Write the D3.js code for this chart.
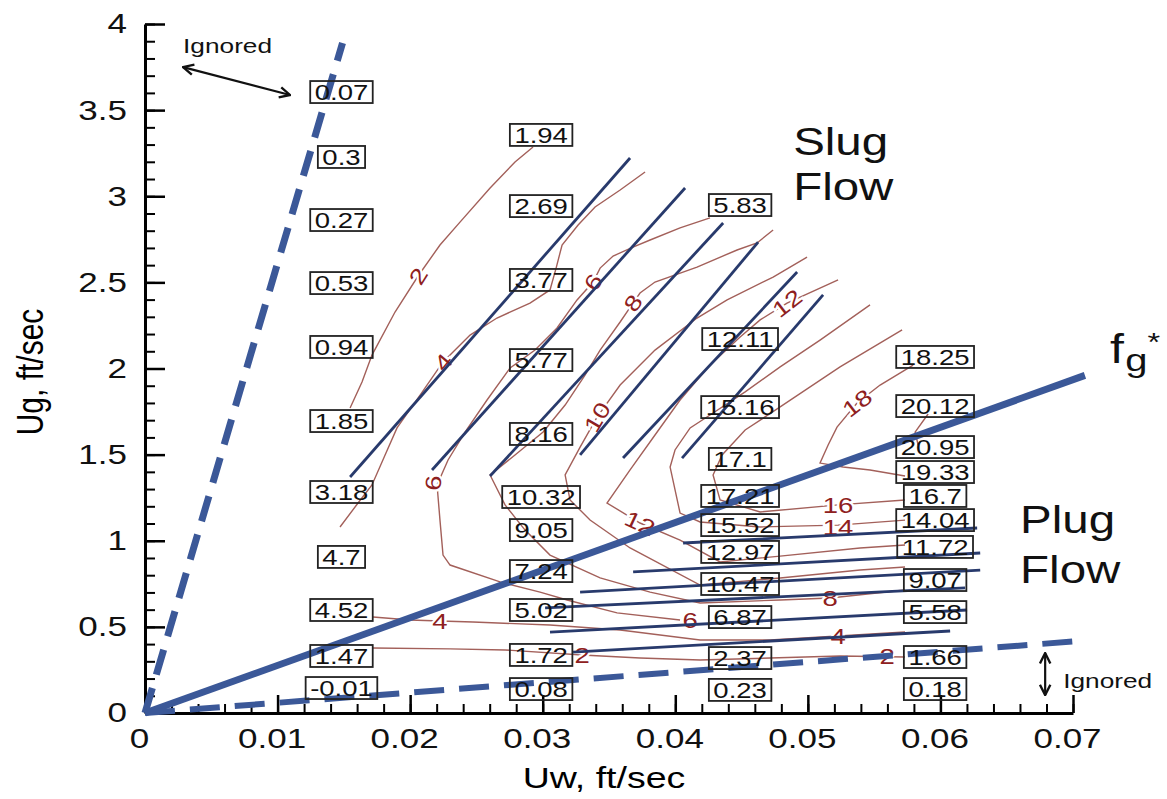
<!DOCTYPE html>
<html>
<head>
<meta charset="utf-8">
<script src="https://cdn.jsdelivr.net/npm/d3@7"></script>
<style>
  body { margin: 0; background: #fff; }
  svg text { font-family: "Liberation Sans", Arial, sans-serif; }
</style>
</head>
<body>
<svg id="chart" width="1167" height="799"></svg>
<script>
// ---- data (Uw ft/sec, Ug ft/sec) ----
var colUw = [0.01482, 0.02988, 0.04489, 0.0596];
var ugCol1 = [3.605, 3.228, 2.862, 2.496, 2.125, 1.695, 1.283, 0.906, 0.598, 0.331, 0.145];
var valCol1 = ["0.07", "0.3", "0.27", "0.53", "0.94", "1.85", "3.18", "4.7", "4.52", "1.47", "-0.01"];
var ugCol2 = [3.356, 2.943, 2.514, 2.049, 1.62, 1.254, 1.062, 0.824, 0.598, 0.337, 0.139];
var valCol2 = ["1.94", "2.69", "3.77", "5.77", "8.16", "10.32", "9.05", "7.24", "5.02", "1.72", "0.08"];
var ugCol3 = [2.949, 2.171, 1.776, 1.475, 1.26, 1.091, 0.935, 0.749, 0.557, 0.319, 0.134];
var valCol3 = ["5.83", "12.11", "15.16", "17.1", "17.21", "15.52", "12.97", "10.47", "6.87", "2.37", "0.23"];
var ugCol4 = [2.067, 1.782, 1.544, 1.399, 1.26, 1.12, 0.964, 0.772, 0.586, 0.325, 0.139];
var valCol4 = ["18.25", "20.12", "20.95", "19.33", "16.7", "14.04", "11.72", "9.07", "5.58", "1.66", "0.18"];

// contour lines [Uw, Ug]
var contour2a = [[0.01547,1.771],[0.01637,1.922],[0.01712,2.078],[0.01886,2.328],[0.0206,2.537],[0.02225,2.717],[0.02376,2.85],[0.02603,3.048],[0.02791,3.199],[0.02927,3.286]];
var contour2b = [[0.0172,0.377],[0.02301,0.372],[0.02716,0.366],[0.03297,0.337],[0.03734,0.319],[0.04187,0.308],[0.04715,0.319],[0.05243,0.331],[0.05733,0.325]];
var contour4a = [[0.01471,1.08],[0.01607,1.219],[0.01712,1.324],[0.01811,1.498],[0.01901,1.655],[0.02075,1.846],[0.02248,2.038],[0.02452,2.194],[0.02655,2.293],[0.02904,2.38],[0.03055,2.456],[0.03101,2.583],[0.03146,2.717],[0.03267,2.833],[0.03395,2.938],[0.03584,3.036],[0.03772,3.141]];
var contour4b = [[0.0172,0.557],[0.01999,0.54],[0.02225,0.534],[0.02474,0.528],[0.03055,0.511],[0.03584,0.482],[0.04187,0.424],[0.04715,0.424],[0.05228,0.447],[0.05733,0.47]];
var contour6 = [[0.04262,2.874],[0.04036,2.816],[0.0381,2.746],[0.03681,2.705],[0.03531,2.653],[0.03433,2.583],[0.0338,2.502],[0.03259,2.398],[0.03108,2.235],[0.02942,2.107],[0.02754,2.003],[0.0258,1.817],[0.02414,1.631],[0.02286,1.469],[0.02203,1.324],[0.02225,1.12],[0.02248,0.917],[0.02301,0.859],[0.02678,0.761],[0.0298,0.702],[0.03184,0.656],[0.03561,0.581],[0.04036,0.54]];
var contour8 = [[0.04738,2.804],[0.04617,2.729],[0.04466,2.688],[0.04164,2.589],[0.03847,2.502],[0.03734,2.438],[0.03681,2.38],[0.03584,2.27],[0.03433,2.107],[0.03319,1.962],[0.03169,1.788],[0.03003,1.631],[0.02791,1.498],[0.02603,1.382],[0.02716,1.208],[0.02867,1.062],[0.03055,0.917],[0.03433,0.784],[0.0381,0.702],[0.04187,0.639],[0.04791,0.656],[0.05168,0.668],[0.05733,0.714]];
var contour10 = [[0.04994,2.647],[0.04738,2.531],[0.04391,2.398],[0.04164,2.293],[0.03847,2.107],[0.03584,1.904],[0.0341,1.718],[0.03282,1.544],[0.03169,1.382],[0.03206,1.237],[0.03357,1.12],[0.03659,0.958],[0.04187,0.743],[0.04791,0.784],[0.05394,0.83],[0.05733,0.848]];
var contour12 = [[0.05228,2.514],[0.04843,2.38],[0.0464,2.282],[0.04489,2.183],[0.04262,2.02],[0.04036,1.817],[0.03847,1.614],[0.03659,1.411],[0.03485,1.219],[0.03734,1.103],[0.04036,1.004],[0.04338,0.877],[0.04791,0.911],[0.05394,0.958],[0.05733,0.975]];
var contour14 = [[0.05469,2.369],[0.05092,2.165],[0.04791,2.009],[0.04527,1.864],[0.04262,1.73],[0.04112,1.655],[0.03998,1.527],[0.03961,1.428],[0.04036,1.161],[0.04187,1.109],[0.0464,1.08],[0.05228,1.091],[0.05733,1.12]];
var contour16 = [[0.05711,2.224],[0.05243,2.009],[0.04791,1.777],[0.04527,1.643],[0.04353,1.498],[0.04285,1.382],[0.04338,1.237],[0.0464,1.167],[0.05228,1.208],[0.05733,1.237]];
var contour18 = [[0.05794,2.02],[0.05545,1.904],[0.05371,1.8],[0.0522,1.66],[0.05153,1.556],[0.05092,1.451],[0.05266,1.428],[0.05469,1.411],[0.05733,1.376]];
var contour20 = [[0.05907,1.736],[0.05809,1.631],[0.05832,1.556]];

var contourText = ["2", "4", "6", "8", "10", "12", "18", "6", "12", "4", "2", "6", "8", "4", "2", "16", "14"];
var contourUw = [0.0206, 0.02248, 0.0338, 0.03681, 0.0341, 0.04843, 0.05371, 0.02173, 0.03734, 0.02225, 0.03297, 0.04112, 0.05168, 0.05228, 0.05598, 0.05228, 0.05228];
var contourUg = [2.537, 2.038, 2.502, 2.38, 1.718, 2.38, 1.8, 1.335, 1.103, 0.534, 0.337, 0.54, 0.668, 0.447, 0.331, 1.208, 1.08];
var contourAngle = [-58, -50, -58, -55, -60, -38, -38, -85, 25, 0, 0, 0, 0, 0, 0, 0, 0];

// straight fit lines [Uw1, Ug1, Uw2, Ug2]
var slugLines = [[0.01547,1.37,0.03659,3.222],[0.02165,1.411,0.04074,3.048],[0.02603,1.376,0.04361,2.845],[0.03282,1.498,0.04625,2.734],[0.03606,1.48,0.04919,2.56],[0.04051,1.48,0.05115,2.427]];
var plugLines = [[0.04059,0.987,0.06277,1.074],[0.03682,0.819,0.063,0.929],[0.03282,0.702,0.063,0.83],[0.03018,0.61,0.06186,0.726],[0.03055,0.47,0.06201,0.598],[0.03229,0.354,0.06073,0.476]];

// regime boundaries
var ignoreUpper = [[0, 0], [0.0149, 3.89]];
var fgStar = [[0, 0], [0.0709, 1.96]];
var ignoreLower = [[0, 0], [0.0705, 0.418]];

// annotations
var regionText = ["Slug", "Flow", "Plug", "Flow"];
var regionUw = [0.04889, 0.04889, 0.06601, 0.06601];
var regionUg = [3.239, 2.978, 1.045, 0.755];
var ignoredUw = [0.00287, 0.06926];
var ignoredUg = [3.832, 0.145];
var arrowTop = [[0.00287, 3.75], [0.01094, 3.588]];
var arrowBottom = [[0.0679, 0.348], [0.0679, 0.104]];
var fgLabel = [0.0728, 2.032];

// ---- chart ----
var sx = 1.25; // the source picture is stretched sideways
var x = d3.scaleLinear().domain([0, 0.07]).range([145, 1073]);
var y = d3.scaleLinear().domain([0, 4]).range([713, 24]);
var svg = d3.select("#chart");

svg.append("defs").append("marker")
  .attr("id", "arr").attr("viewBox", "0 0 10 10").attr("refX", 9).attr("refY", 5)
  .attr("markerWidth", 13).attr("markerHeight", 13).attr("markerUnits", "userSpaceOnUse")
  .attr("orient", "auto-start-reverse")
  .append("path").attr("d", "M1,1L9,5L1,9").attr("fill", "none").attr("stroke", "#111").attr("stroke-width", 1.8);

// axes
svg.append("g").attr("transform", "translate(0,713)")
  .call(d3.axisBottom(x).tickValues(d3.range(0, 0.0701, 0.002)).tickSize(-9).tickFormat(""))
  .call(function (g) { g.select(".domain").remove(); g.selectAll("line").attr("stroke-width", 2); });
svg.append("g").attr("transform", "translate(145,0)")
  .call(d3.axisLeft(y).tickValues(d3.range(0, 4.01, 0.1)).tickSize(-10).tickFormat(""))
  .call(function (g) { g.select(".domain").remove(); g.selectAll("line").attr("stroke-width", 2); });

var xAxis = svg.append("g").attr("transform", "translate(0,713)")
  .call(d3.axisBottom(x).ticks(7).tickSize(-18).tickSizeOuter(0).tickPadding(15).tickFormat(d3.format("~g")));
var yAxis = svg.append("g").attr("transform", "translate(145,0)")
  .call(d3.axisLeft(y).tickValues(d3.range(0, 4.01, 0.5)).tickSize(-20).tickSizeOuter(0).tickPadding(18).tickFormat(d3.format("~g")));
[xAxis, yAxis].forEach(function (a) {
  a.select(".domain").attr("stroke-width", 3);
  a.selectAll(".tick line").attr("stroke-width", 2.5);
  a.selectAll("text").attr("font-size", 28).attr("fill", "#111")
    .attr("font-family", "Liberation Sans, Arial, sans-serif");
});
xAxis.selectAll("text").attr("x", -6 / sx).attr("transform", "scale(" + sx + ",1)");
yAxis.selectAll("text").attr("x", -18 / sx).attr("transform", "scale(" + sx + ",1)");

svg.append("text").text("Uw, ft/sec").attr("font-size", 30).attr("text-anchor", "middle")
  .attr("transform", "translate(604,788) scale(" + sx + ",1)");
svg.append("text").text("Ug, ft/sec").attr("font-size", 30).attr("text-anchor", "middle")
  .attr("transform", "translate(43,372) rotate(-90) scale(1," + sx + ")");

// contours
var line = d3.line().x(function (d) { return x(d[0]); }).y(function (d) { return y(d[1]); });
var contours = [contour2a, contour2b, contour4a, contour4b, contour6, contour8, contour10, contour12, contour14, contour16, contour18, contour20];
svg.append("g").selectAll("path").data(contours).enter().append("path")
  .attr("d", line).attr("fill", "none").attr("stroke", "#a3605a").attr("stroke-width", 1.4);

svg.append("g").selectAll("text").data(contourText).enter().append("text")
  .text(function (d) { return d; })
  .attr("transform", function (d, i) {
    return "translate(" + x(contourUw[i]) + "," + y(contourUg[i]) + ") rotate(" + contourAngle[i] + ") scale(" + sx + ",1)";
  })
  .attr("text-anchor", "middle").attr("dy", "0.36em").attr("font-size", 22).attr("fill", "#8e2020")
  .attr("stroke", "#fff").attr("stroke-width", 4).attr("paint-order", "stroke");

// straight lines
svg.append("g").selectAll("line").data(slugLines.concat(plugLines)).enter().append("line")
  .attr("x1", function (d) { return x(d[0]); }).attr("y1", function (d) { return y(d[1]); })
  .attr("x2", function (d) { return x(d[2]); }).attr("y2", function (d) { return y(d[3]); })
  .attr("stroke", "#283a6c").attr("stroke-width", 2.8);

svg.append("path").datum(fgStar).attr("d", line).attr("stroke", "#3b5898").attr("stroke-width", 7).attr("fill", "none");
svg.append("path").datum(ignoreUpper).attr("d", line).attr("stroke", "#3b5898").attr("stroke-width", 7)
  .attr("stroke-dasharray", "26,14").attr("fill", "none");
svg.append("path").datum(ignoreLower).attr("d", line).attr("stroke", "#3b5898").attr("stroke-width", 6)
  .attr("stroke-dasharray", "30,15").attr("fill", "none");

// value boxes
function drawColumn(uw, ugs, vals) {
  var g = svg.append("g").selectAll("g").data(vals).enter().append("g")
    .attr("transform", function (d, i) { return "translate(" + x(uw) + "," + y(ugs[i]) + ")"; });
  g.append("text").text(function (d) { return d; })
    .attr("text-anchor", "middle").attr("dy", "0.36em").attr("font-size", 22).attr("fill", "#111")
    .attr("transform", "scale(" + sx + ",1)");
  g.insert("rect", "text").each(function () {
    var w = this.parentNode.querySelector("text").getComputedTextLength() * sx + 9;
    d3.select(this).attr("x", -w / 2).attr("y", -11).attr("width", w).attr("height", 22);
  }).attr("fill", "none").attr("stroke", "#222").attr("stroke-width", 1.8);
}
drawColumn(colUw[0], ugCol1, valCol1);
drawColumn(colUw[1], ugCol2, valCol2);
drawColumn(colUw[2], ugCol3, valCol3);
drawColumn(colUw[3], ugCol4, valCol4);

// annotations
svg.append("g").selectAll("text").data(regionText).enter().append("text")
  .text(function (d) { return d; }).attr("font-size", 38).attr("fill", "#111")
  .attr("transform", function (d, i) { return "translate(" + x(regionUw[i]) + "," + y(regionUg[i]) + ") scale(" + sx + ",1)"; });

svg.append("g").selectAll("text").data(ignoredUw).enter().append("text")
  .text("Ignored").attr("font-size", 21).attr("fill", "#111")
  .attr("transform", function (d, i) { return "translate(" + x(d) + "," + y(ignoredUg[i]) + ") scale(" + sx + ",1)"; });

[arrowTop, arrowBottom].forEach(function (a) {
  svg.append("path").datum(a).attr("d", line).attr("stroke", "#111").attr("stroke-width", 2.2)
    .attr("fill", "none").attr("marker-start", "url(#arr)").attr("marker-end", "url(#arr)");
});

// f*_g as one text: subscript g, then a raised star
var fLab = svg.append("text").attr("fill", "#111")
  .attr("transform", "translate(" + x(fgLabel[0]) + "," + y(fgLabel[1]) + ") scale(" + sx + ",1)");
fLab.append("tspan").text("f").attr("font-size", 40);
fLab.append("tspan").text("g").attr("font-size", 32).attr("dx", 1).attr("dy", 8);
fLab.append("tspan").text("*").attr("font-size", 26).attr("dx", 0).attr("dy", -20);
</script>
</body>
</html>
